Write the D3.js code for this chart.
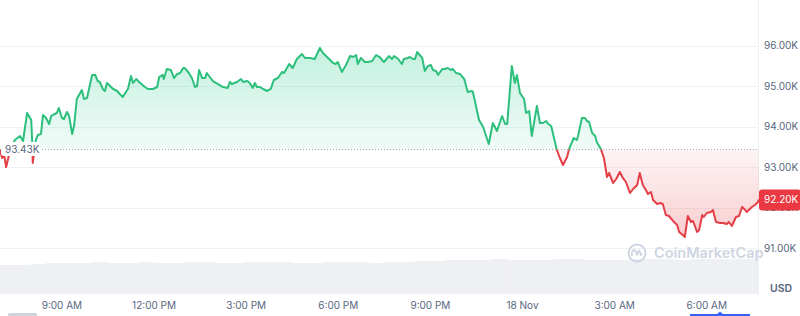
<!DOCTYPE html>
<html>
<head>
<meta charset="utf-8">
<script src="https://cdn.jsdelivr.net/npm/d3@7"></script>
<style>
  body { margin: 0; background: #fff; }
  #chart { width: 800px; height: 316px; }
  text { font-family: Inter, "Noto Sans", sans-serif; }
</style>
</head>
<body>
<div id="chart"></div>
<script>
var width = 800;
var height = 316;
var plotRight = 758;

// minutes after 7:00 AM, 17 Nov
var priceMinutes = [0, 4, 8, 12, 20, 29, 39, 45, 53, 61, 63, 64, 70, 74, 80, 84, 90, 96, 100, 107,
  111, 115, 121, 125, 131, 135, 141, 145, 150, 160, 164, 170, 180, 186, 191, 195, 201, 205, 209, 215,
  221, 229, 234, 240, 246, 250, 256, 260, 266, 274, 283, 289, 299, 307, 311, 318, 320, 326, 334, 340,
  346, 352, 358, 361, 369, 375, 381, 385, 389, 395, 401, 404, 410, 416, 426, 436, 445, 449, 453, 463,
  471, 475, 483, 488, 494, 498, 502, 508, 514, 522, 529, 535, 543, 551, 555, 565, 572, 580, 590, 596,
  606, 615, 625, 631, 641, 651, 656, 660, 668, 676, 684, 690, 696, 699, 705, 713, 719, 727, 735, 742,
  750, 760, 766, 770, 778, 785, 789, 797, 801, 807, 811, 815, 825, 830, 836, 842, 846, 852, 856, 864,
  869, 875, 881, 885, 891, 899, 907, 914, 922, 924, 936, 944, 955, 963, 971, 981, 987, 991, 1000, 1006,
  1010, 1016, 1024, 1028, 1034, 1039, 1049, 1055, 1061, 1067, 1071, 1077, 1082, 1088, 1094, 1100, 1108, 1112, 1121, 1127,
  1129, 1137, 1143, 1147, 1151, 1157, 1163, 1166, 1174, 1180, 1186, 1190, 1198, 1204, 1211, 1217, 1223, 1231, 1237, 1245,
  1250, 1256, 1262, 1266, 1272, 1276, 1284, 1290, 1295, 1301, 1307, 1315, 1323, 1327, 1334, 1338, 1344, 1350, 1354, 1362,
  1366, 1372, 1375, 1381, 1389, 1393, 1399, 1407, 1413, 1420, 1424, 1430, 1438, 1444, 1450, 1456, 1459, 1469, 1475, 1481,
  1483];

var priceValues = [93445, 93222, 93296, 92999, 93420, 93667, 93765, 93642, 94333, 94161, 93593, 93099, 93667, 93790, 93815, 94284, 94210, 94062, 94259, 94309,
  94333, 94457, 94210, 94185, 94358, 94259, 93815, 94037, 94679, 94901, 94679, 94704, 95272, 95272, 95123, 95099, 94926, 94877, 95074, 95000,
  94926, 94877, 94802, 94728, 94852, 94926, 95247, 95074, 95173, 95074, 94975, 94926, 94926, 94975, 95222, 95272, 95173, 95420, 95395, 95197,
  95296, 95321, 95444, 95444, 95321, 95197, 94975, 95000, 95395, 95197, 95197, 95321, 95222, 95123, 95049, 94975, 94951, 95099, 95049, 95099,
  95173, 95099, 95123, 95074, 94951, 95074, 94975, 94975, 94926, 94877, 94926, 95148, 95197, 95346, 95321, 95543, 95444, 95666, 95790, 95691,
  95691, 95666, 95938, 95814, 95691, 95568, 95543, 95592, 95346, 95518, 95740, 95716, 95765, 95543, 95691, 95592, 95592, 95617, 95765, 95716,
  95592, 95740, 95666, 95740, 95666, 95543, 95666, 95691, 95716, 95666, 95666, 95839, 95691, 95370, 95494, 95518, 95395, 95370, 95272, 95420,
  95420, 95444, 95395, 95420, 95321, 95296, 95173, 94852, 94877, 94852, 94161, 93988, 93568, 94086, 93889, 94259, 94062, 94062, 95494, 95074,
  95272, 94827, 94679, 94333, 94383, 93765, 94506, 94086, 94086, 94136, 94062, 94012, 93741, 93420, 93222, 93049, 93247, 93445, 93716, 93667,
  93741, 94210, 94210, 94136, 94111, 93840, 93765, 93617, 93445, 93222, 92753, 92852, 92605, 92704, 92877, 92729, 92630, 92358, 92457, 92556,
  92852, 92556, 92432, 92333, 92383, 92185, 92086, 92111, 92086, 91815, 91790, 91667, 91568, 91395, 91321, 91272, 91790, 91642, 91667, 91395,
  91444, 91815, 91765, 91864, 91889, 91938, 91642, 91617, 91617, 91593, 91642, 91543, 91765, 91790, 92012, 91938, 91889, 92012, 92062, 92136,
  92200];

var openPrice = 93430;
var lastPrice = 92200;

// half-hour volume (relative units)
var volumeValues = [29, 29, 30, 31, 31, 31, 32, 31, 31, 32, 31, 31, 32, 32, 31, 31, 32, 32, 32, 31,
  31, 32, 32, 32, 31, 32, 32, 33, 33, 34, 34, 34, 35, 34, 34, 34, 35, 35, 34, 34,
  34, 35, 35, 35, 34, 35, 35, 35, 35, 35];

var priceTicks = [91000, 92000, 93000, 94000, 95000, 96000];

var start = new Date(2024, 10, 17, 7, 0);
function addMinutes(m) { return new Date(start.getTime() + m * 60000); }

var data = priceMinutes.map(function (m, i) { return { t: addMinutes(m), v: priceValues[i] }; });

var x = d3.scaleTime()
  .domain([start, addMinutes(1483)])
  .range([0, plotRight + 1]);

var y = d3.scaleLinear()
  .domain([91000, 96000])
  .range([248, 45.5]);

var yVol = d3.scaleLinear()
  .domain([0, 40])
  .range([294, 254]);

var yBase = y(openPrice);

var svg = d3.select("#chart")
  .append("svg")
  .attr("width", width)
  .attr("height", height);

var defs = svg.append("defs");

defs.append("clipPath").attr("id", "clipAbove")
  .append("rect").attr("x", 0).attr("y", 0).attr("width", plotRight + 1).attr("height", yBase);
defs.append("clipPath").attr("id", "clipBelow")
  .append("rect").attr("x", 0).attr("y", yBase).attr("width", plotRight + 1).attr("height", height - yBase);
defs.append("clipPath").attr("id", "clipPlot")
  .append("rect").attr("x", 0).attr("y", 0).attr("width", plotRight).attr("height", height);

var gGreen = defs.append("linearGradient").attr("id", "gradGreen")
  .attr("gradientUnits", "userSpaceOnUse")
  .attr("x1", 0).attr("x2", 0).attr("y1", y(96000)).attr("y2", yBase);
gGreen.append("stop").attr("offset", 0).attr("stop-color", "#16c784").attr("stop-opacity", 0.26);
gGreen.append("stop").attr("offset", 1).attr("stop-color", "#16c784").attr("stop-opacity", 0.06);

var gRed = defs.append("linearGradient").attr("id", "gradRed")
  .attr("gradientUnits", "userSpaceOnUse")
  .attr("x1", 0).attr("x2", 0).attr("y1", yBase).attr("y2", y(91200));
gRed.append("stop").attr("offset", 0).attr("stop-color", "#ea3943").attr("stop-opacity", 0.05);
gRed.append("stop").attr("offset", 1).attr("stop-color", "#ea3943").attr("stop-opacity", 0.26);

// grid
svg.append("g")
  .selectAll("line")
  .data(priceTicks)
  .enter()
  .append("line")
  .attr("x1", 0)
  .attr("x2", plotRight)
  .attr("y1", function (d) { return Math.round(y(d)) + 0.5; })
  .attr("y2", function (d) { return Math.round(y(d)) + 0.5; })
  .attr("stroke", "#eff2f5");

svg.append("line")
  .attr("x1", plotRight + 0.5).attr("x2", plotRight + 0.5)
  .attr("y1", 0).attr("y2", 295)
  .attr("stroke", "#eff2f5");

// volume
var barW = x(addMinutes(30)) - x(addMinutes(0));
svg.append("g")
  .attr("clip-path", "url(#clipPlot)")
  .selectAll("rect")
  .data(volumeValues)
  .enter()
  .append("rect")
  .attr("x", function (d, i) { return x(addMinutes(i * 30)); })
  .attr("width", barW + 0.2)
  .attr("y", function (d) { return yVol(d); })
  .attr("height", function (d) { return yVol(0) - yVol(d); })
  .attr("fill", "#eef0f4");

// watermark
var wm = svg.append("g").attr("transform", "translate(637,253)");
wm.append("circle").attr("r", 8.5).attr("fill", "none").attr("stroke", "#cfd5e2").attr("stroke-width", 2);
wm.append("path")
  .attr("d", "M-5,3 L-5,-1 Q-3,-5 -1,-1 L0,2 Q2,-5 3,-1 L3.5,2 L5.5,1")
  .attr("fill", "none").attr("stroke", "#cfd5e2").attr("stroke-width", 1.8)
  .attr("stroke-linejoin", "round");
svg.append("text")
  .attr("x", 654).attr("y", 258)
  .attr("font-size", 14.5)
  .attr("font-weight", 600)
  .attr("fill", "#cfd5e2")
  .text("CoinMarketCap");

// areas
var area = d3.area()
  .x(function (d) { return x(d.t); })
  .y0(yBase)
  .y1(function (d) { return y(d.v); });

var line = d3.line()
  .x(function (d) { return x(d.t); })
  .y(function (d) { return y(d.v); });

svg.append("path").datum(data)
  .attr("clip-path", "url(#clipAbove)")
  .attr("d", area)
  .attr("fill", "url(#gradGreen)");

svg.append("path").datum(data)
  .attr("clip-path", "url(#clipBelow)")
  .attr("d", area)
  .attr("fill", "url(#gradRed)");

// open price dotted line
svg.append("line")
  .attr("x1", 36).attr("x2", plotRight)
  .attr("y1", yBase).attr("y2", yBase)
  .attr("stroke", "#a1a7bb")
  .attr("stroke-width", 1)
  .attr("stroke-dasharray", "1,2");

svg.append("path").datum(data)
  .attr("clip-path", "url(#clipAbove)")
  .attr("d", line)
  .attr("fill", "none")
  .attr("stroke", "#2dbf7c")
  .attr("stroke-width", 2)
  .attr("stroke-linejoin", "round");

svg.append("path").datum(data)
  .attr("clip-path", "url(#clipBelow)")
  .attr("d", line)
  .attr("fill", "none")
  .attr("stroke", "#e23f47")
  .attr("stroke-width", 2)
  .attr("stroke-linejoin", "round");

// open price label
svg.append("rect")
  .attr("x", 1).attr("y", yBase - 7.5)
  .attr("width", 39).attr("height", 14).attr("rx", 3)
  .attr("fill", "#fff");
svg.append("text")
  .attr("x", 5).attr("y", yBase)
  .attr("dy", "0.35em")
  .attr("font-size", 10)
  .attr("fill", "#58667e")
  .text((openPrice / 1000).toFixed(2) + "K");

// x axis
var xAxis = d3.axisBottom(x)
  .ticks(d3.timeHour.every(3))
  .tickSize(0)
  .tickPadding(0)
  .tickFormat(function (d) {
    if (d.getHours() === 0) return d3.timeFormat("%-d %b")(d);
    return d3.timeFormat("%-I:%M %p")(d);
  });

var gx = svg.append("g")
  .attr("transform", "translate(0,302)")
  .call(xAxis);
gx.select(".domain").remove();
gx.selectAll("text")
  .attr("font-family", "Inter, sans-serif")
  .attr("font-size", 10)
  .attr("fill", "#58667e");

// y axis
var yAxis = d3.axisRight(y)
  .tickValues(priceTicks)
  .tickSize(0)
  .tickPadding(6)
  .tickFormat(function (d) { return (d / 1000).toFixed(2) + "K"; });

var gy = svg.append("g")
  .attr("transform", "translate(" + plotRight + ",0)")
  .call(yAxis);
gy.select(".domain").remove();
gy.selectAll("text")
  .attr("font-family", "Inter, sans-serif")
  .attr("font-size", 10)
  .attr("fill", "#58667e");

// last price tag (covers the 92.00K tick as in the original)
svg.append("rect")
  .attr("x", plotRight + 1).attr("y", y(lastPrice) - 10)
  .attr("width", width - plotRight).attr("height", 21).attr("rx", 3)
  .attr("fill", "#ea3943");
svg.append("text")
  .attr("x", plotRight + 6).attr("y", y(lastPrice) + 0.5)
  .attr("dy", "0.35em")
  .attr("font-size", 10)
  .attr("fill", "#fff")
  .text((lastPrice / 1000).toFixed(2) + "K");

svg.append("text")
  .attr("x", 770).attr("y", 292)
  .attr("font-size", 10.5)
  .attr("font-weight", 600)
  .attr("fill", "#58667e")
  .text("USD");

// range selector remnants at the bottom edge
svg.append("rect")
  .attr("x", 8).attr("y", 313).attr("width", 29).attr("height", 4).attr("rx", 2)
  .attr("fill", "#cfd3da");
svg.append("line")
  .attr("x1", 690).attr("x2", 750).attr("y1", 315).attr("y2", 315)
  .attr("stroke", "#3861fb").attr("stroke-width", 2);
svg.append("path")
  .attr("d", "M716,315 L720,311.5 L724,315 Z")
  .attr("fill", "#3861fb");
</script>
</body>
</html>
